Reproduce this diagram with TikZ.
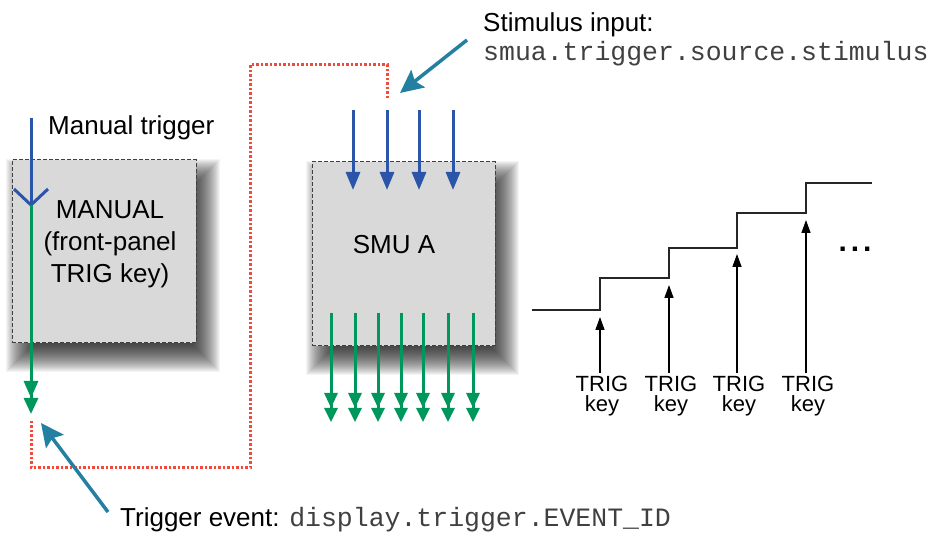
\documentclass[tikz,border=0pt]{standalone}
\usepackage{fontspec}
\setmainfont{Liberation Sans}
\setmonofont{Liberation Mono}
\usetikzlibrary{arrows.meta,calc}
\definecolor{tblue}{HTML}{2B55A8}
\definecolor{tgreen}{HTML}{00975C}
\definecolor{tteal}{HTML}{2480A0}
\definecolor{tred}{HTML}{F04A3A}
\definecolor{tfill}{HTML}{D9D9D9}
\newcommand\mysoftshadow[4]{%
  \foreach \k in {0,...,30}{%
    \pgfmathsetmacro\e{15-\k}%
    \fill[black,opacity=0.045] ({#1+9-\e},{#2+14-\e}) rectangle ({#3+9+\e},{#4+14+\e});
  }}
\begin{document}
\begin{tikzpicture}[x=1pt,y=-1pt,
  blk/.style={draw=black!75, fill=tfill, dash pattern=on 4pt off 2pt, line width=1pt, inner sep=0pt},
  lbl/.style={font=\fontsize{26}{32}\selectfont, inner sep=0pt},
  mono/.style={font=\ttfamily\fontsize{26.5}{32}\selectfont, inner sep=0pt, text=black!75},
  small/.style={font=\fontsize{22}{20}\selectfont, inner sep=0pt, align=center},
  bluearr/.style={draw=tblue, line width=3pt, -{Triangle[width=14pt,length=18pt]}},
  blueline/.style={draw=tblue, line width=3pt},
  greenarr/.style={draw=tgreen, line width=3pt, -{Triangle[width=13pt,length=15pt]Triangle[width=13pt,length=14pt,sep=1pt]}},
  greenbig/.style={draw=tgreen, line width=3pt, -{Triangle[width=14pt,length=17pt]Triangle[width=14pt,length=16pt,sep=1pt]}},
  redpath/.style={draw=tred, line width=3pt, dash pattern=on 2.5pt off 2pt},
  tealarr/.style={draw=tteal, line width=3.5pt, -{Stealth[width=22pt,length=23pt,inset=4pt]}},
  stair/.style={draw=black!85, line width=1.5pt},
  uparr/.style={draw=black, line width=1.4pt, -{Triangle[width=9pt,length=13pt]}}
]
\useasboundingbox (0,0) rectangle (930,534);

% shadows
\mysoftshadow{12}{160}{196}{343}
\mysoftshadow{312}{162}{495}{346}

% boxes
\node[blk, minimum width=184pt, minimum height=183pt] (man) at (104,251.5) {};
\node[blk, minimum width=183pt, minimum height=184pt] (smu) at (403.5,254) {};

\node[lbl, align=center] (mantxt) at (110,244) {MANUAL\\(front-panel\\TRIG key)};
\node[lbl] (smutxt) at (394,245) {SMU A};

% manual trigger input
\node[lbl, anchor=base west] (mtrig) at (48,135) {Manual trigger};
\coordinate (mtop) at (31,118);
\coordinate (mv) at (31,205);
\coordinate (mva) at (14,189);
\coordinate (mvb) at (48,189);
\draw[blueline] (mtop) -- (mv);
\draw[blueline] (mva) -- (mv) -- (mvb);
\coordinate (mend) at (31,415);
\draw[greenbig] (mv) -- (mend);

% red dotted path
\coordinate (r0) at (31,421);
\coordinate (r1) at (31,468);
\coordinate (r2) at (250,468);
\coordinate (r3) at (250,65);
\coordinate (r4) at (387,65);
\coordinate (r5) at (387,100);
\draw[redpath] (r0) -- (r1) -- (r2) -- (r3) -- (r4) -- (r5);

% SMU inputs
\foreach \x [count=\i] in {353,387,419,453}{
  \coordinate (bi\i) at (\x,110);
  \coordinate (bo\i) at (\x,190);
  \draw[bluearr] (bi\i) -- (bo\i);
}
% SMU outputs
\foreach \x [count=\i] in {331,355,378,401,423,448,473}{
  \coordinate (gi\i) at (\x,313);
  \coordinate (go\i) at (\x,423);
  \draw[greenarr] (gi\i) -- (go\i);
}

% callouts
\node[lbl, anchor=base west] (stim) at (483,32) {Stimulus input:};
\node[mono, anchor=base west] (stimc) at (483,61) {smua.trigger.source.stimulus};
\coordinate (sa0) at (467,40);
\coordinate (sa1) at (400,93);
\draw[tealarr] (sa0) -- (sa1);

\node[lbl, anchor=base west] (tev) at (120,527) {Trigger event: \ttfamily\fontsize{26.5}{32}\selectfont\color{black!75}display.trigger.EVENT\_ID};
\coordinate (ta0) at (108,512);
\coordinate (ta1) at (41,423);
\draw[tealarr] (ta0) -- (ta1);

% staircase
\coordinate (s0) at (532,310);
\coordinate (s1) at (600,278);
\coordinate (s2) at (669,248);
\coordinate (s3) at (737,213);
\coordinate (s4) at (806,183);
\coordinate (s5) at (872,183);
\draw[stair] (s0) -| (s1) -| (s2) -| (s3) -| (s4) -- (s5);

\foreach \x/\t [count=\i] in {600/317,669/285,737/254,806/220}{
  \coordinate (ub\i) at (\x,373);
  \coordinate (ut\i) at (\x,\t);
  \draw[uparr] (ub\i) -- (ut\i);
  \node[small, anchor=base] (tk\i) at (\x+2,412) {TRIG\\key};
}
\node[font=\bfseries\fontsize{30}{30}\selectfont, inner sep=0pt, anchor=base] (dots) at (855,252) {.\hspace{4pt}.\hspace{4pt}.};
\end{tikzpicture}
\end{document}
